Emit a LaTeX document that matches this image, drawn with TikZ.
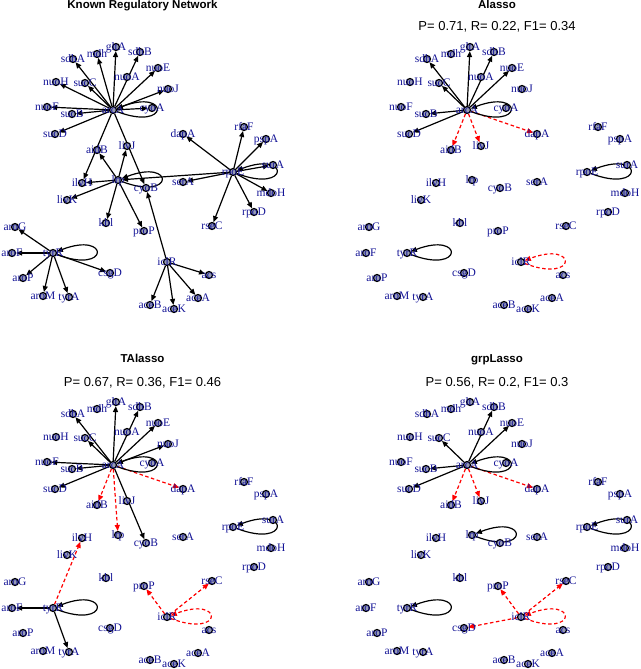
\documentclass[tikz,border=0pt]{standalone}
\usepackage{fontspec}
\setmainfont{Liberation Serif}
\newfontfamily\hfont{Liberation Sans}
\usetikzlibrary{arrows.meta}
\definecolor{lblblue}{RGB}{20,20,150}
\definecolor{vfill}{RGB}{150,155,180}
\definecolor{redge}{RGB}{255,0,0}
\pgfdeclarelayer{edges}
\pgfsetlayers{edges,main}
\tikzset{
 gn/.style={circle,draw=black,line width=1.2pt,fill=vfill,minimum size=7pt,inner sep=0pt},
 glbl/.style={text=lblblue,font=\fontsize{11.5}{12}\selectfont,inner sep=0pt,text height=7.6pt,text depth=0pt},
 blk/.style={draw=black,line width=1.2pt,-{Triangle[length=6pt,width=5pt]}},
 fp/.style={draw=redge,line width=1.2pt,dash pattern=on 3.5pt off 2.5pt,-{Triangle[length=6pt,width=5pt]}},
 ttl/.style={font=\hfont\bfseries\fontsize{11.5}{12}\selectfont,anchor=base,inner sep=0pt},
 stat/.style={font=\hfont\fontsize{13}{14}\selectfont,anchor=base,inner sep=0pt},
}
\newcommand\placenodes[1]{%
 \foreach \n/\px/\py in {arcA/113/110, gltA/116/47, sdhB/140/52, mdh/97/54, sdhA/73/59,
   nuoE/158/68, nuoA/127/77, nuoJ/168/89, nuoH/56/82, sucC/85/83, nuoF/47/107, sucB/72/114,
   cyoA/152/108, sucD/55/134, aidB/97/150, livJ/127/146, dapA/183/134, rfaF/244/127,
   pspA/266/139, lrp/118/180, ilvH/82/183, livK/67/200, cyoB/146/188, serA/183/182,
   rpoE/233/172, surA/273/165, mdoH/271/193, rpoD/254/212, rseC/212/226, kbl/106/223,
   proP/144/231, aroG/15/227, tyrR/53/253, aroF/12/253, aroP/23/278, aroM/43/296,
   tyrA/69/297, csgD/110/273, iclR/167/262, acs/209/275, aceB/150/305, aceK/174/309,
   aceA/198/298}{%
   \node[gn,label={[glbl]center:\n}] (#1\n) at (\px,\py) {};
 }}
\newcommand\edg[3]{\foreach \s/\t in {#3}{\draw[#2] (#1\s) -- (#1\t);}}
\newcommand\selfloop[3]{\draw[#2] (#1#3) .. controls +(57,22) and +(57,-22) .. (#1#3);}
\begin{document}
\begin{tikzpicture}[x=1pt,y=-1pt]
\useasboundingbox (0,0) rectangle (640,669);
\node[ttl] (tK) at (142.5,9) {Known Regulatory Network};
\node[ttl] (tA) at (497,9) {Alasso};
\node[stat] (sA) at (497,30.7) {P= 0.71, R= 0.22, F1= 0.34};
\node[ttl] (tT) at (142.5,362.5) {TAlasso};
\node[stat] (sT) at (142.5,386) {P= 0.67, R= 0.36, F1= 0.46};
\node[ttl] (tG) at (497,362.5) {grpLasso};
\node[stat] (sG) at (497,386) {P= 0.56, R= 0.2, F1= 0.3};

\begin{scope}\placenodes{K}\end{scope}
\begin{scope}[shift={(354,0)}]\placenodes{A}\end{scope}
\begin{scope}[shift={(0,355)}]\placenodes{T}\end{scope}
\begin{scope}[shift={(354,355)}]\placenodes{G}\end{scope}

\begin{pgfonlayer}{edges}
% Known network
\edg{K}{blk}{arcA/gltA, arcA/sdhB, arcA/mdh, arcA/sdhA, arcA/nuoE, arcA/nuoJ, arcA/nuoH,
  arcA/sucC, arcA/nuoF, arcA/sucB, arcA/cyoA, arcA/sucD, arcA/ilvH, arcA/cyoB,
  lrp/ilvH, lrp/livK, lrp/kbl, lrp/proP, lrp/aidB, lrp/livJ,
  rpoE/dapA, rpoE/rfaF, rpoE/pspA, rpoE/surA, rpoE/mdoH, rpoE/rpoD, rpoE/rseC, rpoE/serA, rpoE/lrp,
  tyrR/aroG, tyrR/aroF, tyrR/aroP, tyrR/aroM, tyrR/tyrA, tyrR/csgD,
  iclR/aceB, iclR/aceK, iclR/aceA, iclR/acs, iclR/cyoB}
\selfloop{K}{blk}{arcA}\selfloop{K}{blk}{lrp}\selfloop{K}{blk}{rpoE}\selfloop{K}{blk}{tyrR}
% Alasso
\edg{A}{blk}{arcA/sdhA, arcA/gltA, arcA/sdhB, arcA/nuoE, arcA/sucC, arcA/sucB, arcA/sucD}
\edg{A}{fp}{arcA/aidB, arcA/livJ, arcA/dapA}
\selfloop{A}{blk}{arcA}\selfloop{A}{blk}{rpoE}\selfloop{A}{blk}{tyrR}\selfloop{A}{fp}{iclR}
% TAlasso
\edg{T}{blk}{arcA/sdhA, arcA/gltA, arcA/sdhB, arcA/nuoE, arcA/nuoJ, arcA/sucC, arcA/nuoF,
  arcA/sucB, arcA/sucD, arcA/cyoB, tyrR/aroF, tyrR/tyrA}
\edg{T}{fp}{arcA/aidB, arcA/lrp, arcA/dapA, tyrR/ilvH, iclR/proP, iclR/rseC}
\selfloop{T}{blk}{arcA}\selfloop{T}{blk}{tyrR}\selfloop{T}{blk}{rpoE}\selfloop{T}{fp}{iclR}
% grpLasso
\edg{G}{blk}{arcA/sdhB, arcA/nuoE, arcA/sucC, arcA/sucB, arcA/sucD}
\edg{G}{fp}{arcA/aidB, arcA/livJ, arcA/dapA, iclR/proP, iclR/rseC, iclR/csgD}
\selfloop{G}{blk}{arcA}\selfloop{G}{blk}{lrp}\selfloop{G}{blk}{tyrR}\selfloop{G}{blk}{rpoE}\selfloop{G}{fp}{iclR}
\end{pgfonlayer}
\end{tikzpicture}
\end{document}
